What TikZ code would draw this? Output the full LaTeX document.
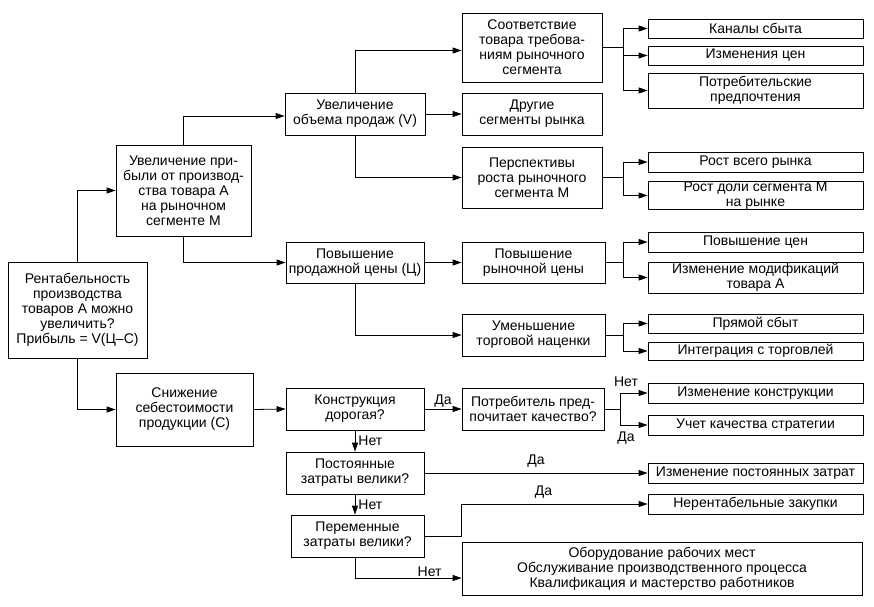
\documentclass[tikz,border=0pt]{standalone}
\usepackage{fontspec}
\setmainfont{Liberation Sans}
\usetikzlibrary{arrows.meta,calc}
\begin{document}
\begin{tikzpicture}[x=1pt,y=-1pt,
 box/.style={draw, line width=0.8pt, inner sep=0pt, align=center, font=\fontsize{14}{15}\selectfont},
 arr/.style={line width=0.8pt, -{Triangle[length=9pt,width=6pt]}},
 ln/.style={line width=0.8pt},
 lbl/.style={font=\fontsize{14}{15}\selectfont, inner sep=1pt}]
\useasboundingbox (0,0) rectangle (874,606);
% column 1
\node[box, minimum width=139pt, minimum height=96pt] (root) at (77.5,310) {Рентабельность\\производства\\товаров А можно\\увеличить?\\Прибыль = V(Ц–С)};
% column 2
\node[box, minimum width=135pt, minimum height=91pt] (pr) at (183.5,190.5) {Увеличение при-\\были от производ-\\ства товара А\\на рыночном\\сегменте М};
\node[box, minimum width=137pt, minimum height=73pt] (sn) at (184.5,409.5) {Снижение\\себестоимости\\продукции (С)};
% column 3
\node[box, minimum width=140pt, minimum height=42pt] (V) at (355,114) {Увеличение\\объема продаж (V)};
\node[box, minimum width=138pt, minimum height=41pt] (C) at (355,262.5) {Повышение\\продажной цены (Ц)};
\node[box, minimum width=138pt, minimum height=42pt] (kd) at (355,409) {Конструкция\\дорогая?};
\node[box, minimum width=138pt, minimum height=42pt] (pz) at (355,473) {Постоянные\\затраты велики?};
\node[box, minimum width=133pt, minimum height=42pt] (pe) at (357.5,536) {Переменные\\затраты велики?};
% column 4
\node[box, minimum width=140pt, minimum height=69pt] (sootv) at (532,47.5) {Соответствие\\товара требова-\\ниям рыночного\\сегмента};
\node[box, minimum width=140pt, minimum height=42pt] (drug) at (532,114) {Другие\\сегменты рынка};
\node[box, minimum width=140pt, minimum height=61pt] (persp) at (532,177.5) {Перспективы\\роста рыночного\\сегмента М};
\node[box, minimum width=143pt, minimum height=41pt] (pry) at (533.5,262.5) {Повышение\\рыночной цены};
\node[box, minimum width=143pt, minimum height=42pt] (um) at (533.5,335) {Уменьшение\\торговой наценки};
\node[box, minimum width=142pt, minimum height=42pt] (potr) at (533,409) {Потребитель пред-\\почитает качество?};
\node[box, minimum width=400pt, minimum height=53pt] (big) at (662,568.5) {Оборудование рабочих мест\\Обслуживание производственного процесса\\Квалификация и мастерство работников};
% column 5
\node[box, minimum width=215pt, minimum height=19pt] (kan) at (755.5,28.5) {Каналы сбыта};
\node[box, minimum width=215pt, minimum height=19pt] (izc) at (755.5,55.5) {Изменения цен};
\node[box, minimum width=215pt, minimum height=35pt] (potp) at (755.5,90.5) {Потребительские\\предпочтения};
\node[box, minimum width=215pt, minimum height=20pt] (rvr) at (755.5,162) {Рост всего рынка};
\node[box, minimum width=215pt, minimum height=28pt] (rds) at (755.5,195.5) {Рост доли сегмента М\\на рынке};
\node[box, minimum width=215pt, minimum height=20pt] (pc) at (755.5,242) {Повышение цен};
\node[box, minimum width=215pt, minimum height=31pt] (imt) at (755.5,277.5) {Изменение модификаций\\товара А};
\node[box, minimum width=215pt, minimum height=19pt] (prs) at (755.5,323.5) {Прямой сбыт};
\node[box, minimum width=215pt, minimum height=18pt] (int) at (755.5,351) {Интеграция с торговлей};
\node[box, minimum width=215pt, minimum height=20pt] (izk) at (755.5,393) {Изменение конструкции};
\node[box, minimum width=215pt, minimum height=20pt] (ukc) at (755.5,425) {Учет качества стратегии};
\node[box, minimum width=215pt, minimum height=20pt] (izp) at (755.5,473) {Изменение постоянных затрат};
\node[box, minimum width=215pt, minimum height=20pt] (ner) at (755.5,504) {Нерентабельные закупки};
% fan coordinates
\coordinate (x623) at (623,0);
\coordinate (x620) at (620,0);
\coordinate (f1) at (sootv.east -| x623);
\coordinate (f2) at (persp.east -| x623);
\coordinate (f3) at (pry.east -| x623);
\coordinate (f4) at (um.east -| x623);
\coordinate (f5) at (potr.east -| x620);
% connectors
\draw[arr] (root.north) |- (pr.west);
\draw[arr] (root.south) |- (sn.west);
\draw[arr] (pr.north) |- ([yshift=-2pt]V.west);
\draw[arr] (pr.south) |- (C.west);
\draw[arr] (V.north) |- ([yshift=-3pt]sootv.west);
\draw[arr] (V.east) -- (drug.west);
\draw[arr] (V.south) |- (persp.west);
\draw[arr] (C.east) -- (pry.west);
\draw[arr] (C.south) |- (um.west);
\draw[ln] (sootv.east) -- (f1);
\draw[arr] (f1) |- (kan.west);
\draw[arr] (f1) |- (izc.west);
\draw[arr] (f1) |- (potp.west);
\draw[ln] (persp.east) -- (f2);
\draw[arr] (f2) |- (rvr.west);
\draw[arr] (f2) |- (rds.west);
\draw[ln] (pry.east) -- (f3);
\draw[arr] (f3) |- (pc.west);
\draw[arr] (f3) |- (imt.west);
\draw[ln] (um.east) -- (f4);
\draw[arr] (f4) |- (prs.west);
\draw[arr] (f4) |- (int.west);
\draw[arr] (sn.east) -- (kd.west);
\draw[arr] (kd.east) -- node[lbl, above] {Да} (potr.west);
\draw[arr] (kd.south) -- node[lbl, right, xshift=2pt] {Нет} (pz.north);
\draw[arr] (pz.south) -- node[lbl, right, xshift=2pt] {Нет} (pz.south |- pe.north);
\draw[ln] (potr.east) -- (f5);
\draw[arr] (f5) |- (izk.west);
\draw[arr] (f5) |- (ukc.west);
\node[lbl] (nlab) at (626,382) {Нет};
\node[lbl] (dlab) at (626,438) {Да};
\draw[arr] (pz.east) -- node[lbl, above, pos=0.5, yshift=4pt] {Да} (izp.west);
\draw[arr] (pe.east) -- (pe.east -| potr.west) |- node[lbl, above, pos=0.72, yshift=4pt] {Да} (ner.west);
\draw[arr] (pz.south |- pe.south) |- node[lbl, above, pos=0.85] {Нет} ([yshift=-9.5pt]big.west);
\end{tikzpicture}
\end{document}
